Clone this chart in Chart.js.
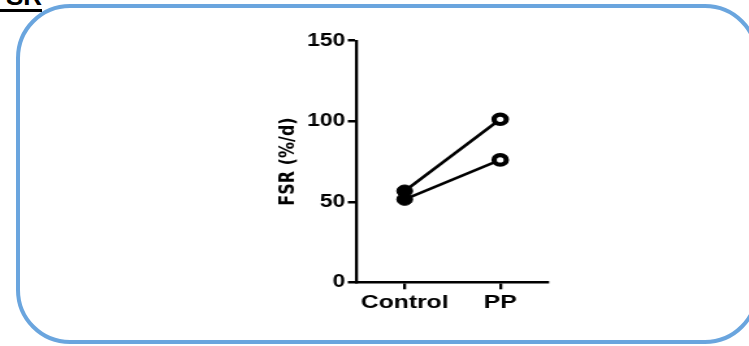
<!DOCTYPE html>
<html>
<head>
<meta charset="utf-8">
<script src="https://cdn.jsdelivr.net/npm/chart.js@4"></script>
<style>
    html, body { margin: 0; padding: 0; width: 749px; height: 346px; overflow: hidden; background: #fff; }
    #moldura {
        position: absolute; left: 16px; top: 4px; width: 743px; height: 340px;
        box-sizing: border-box; border: 4.5px solid #6aa5de; border-radius: 54px;
    }
    #rotulo {
        position: absolute; right: 707px; top: -17.5px;
        font: bold 26px "Liberation Sans", Arial, sans-serif; line-height: 26px;
        border-bottom: 3px solid #000; white-space: nowrap;
    }
    #caixaGrafico {
        position: absolute; left: 0; top: 0; width: 576px; height: 346px;
        transform: scaleX(1.3003); transform-origin: 0 0;
    }
</style>
</head>
<body>
<div id="moldura"></div>
<div id="rotulo">FSR</div>
<div id="caixaGrafico"><canvas id="fsrChart" width="576" height="346" style="width:576px;height:346px"></canvas></div>
<script>
const categorias = ['Control', 'PP'];
const sujeitoA = [56.7, 101.2];
const sujeitoB = [51.5, 76.0];
const ticksY = [0, 50, 100, 150];

const fonte = '"Liberation Sans", Arial, sans-serif';

function serie(valores) {
    return {
        data: valores,
        borderColor: '#000',
        borderWidth: 2.6,
        pointRadius: [6, 4.7],
        pointBorderWidth: [1, 4.2],
        pointBackgroundColor: ['#000', '#fff'],
        pointBorderColor: '#000',
        fill: false,
        tension: 0
    }
}

const ctx = document.getElementById('fsrChart').getContext('2d');
const fsrChart = new Chart(ctx, {
    type: 'line',
    data: {
        labels: categorias,
        datasets: [serie(sujeitoA), serie(sujeitoB)]
    },
    options: {
        responsive: false,
        animation: false,
        clip: false,
        layout: { padding: { left: 212, right: 154.6, top: 40.7, bottom: 23.7 } },
        plugins: {
            legend: { display: false },
            tooltip: { enabled: false }
        },
        scales: {
            x: {
                offset: true,
                ticks: {
                    color: '#000', padding: 2, autoSkip: false, maxRotation: 0, minRotation: 0,
                    font: { family: fonte, size: 19, weight: 'bold' }
                },
                grid: { drawOnChartArea: false, tickLength: 7, color: '#000', lineWidth: 2.3 },
                border: { color: '#000', width: 2.5 },
                afterFit: s => { s.height = 40 }
            },
            y: {
                min: ticksY[0],
                max: ticksY[ticksY.length - 1],
                ticks: { stepSize: ticksY[1] - ticksY[0], color: '#000', padding: 2, font: { family: fonte, size: 17.5, weight: 'bold' } },
                grid: { drawOnChartArea: false, tickLength: 7, color: '#000', lineWidth: 2.5 },
                border: { color: '#000', width: 2.3 },
                title: { display: true, text: 'FSR (%/d)', color: '#000', padding: 0, font: { family: '"DejaVu Sans", sans-serif', size: 16, weight: 'bold' } },
                afterFit: s => { s.width = 62.5 }
            }
        }
    }
})
</script>
</body>
</html>
